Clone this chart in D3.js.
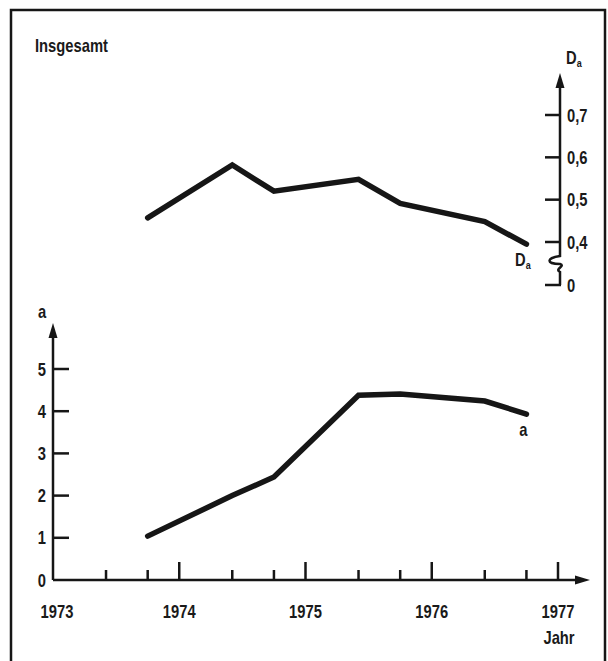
<!DOCTYPE html>
<html>
<head>
<meta charset="utf-8">
<script src="https://cdn.jsdelivr.net/npm/d3@7"></script>
<style>
  html, body { margin: 0; padding: 0; background: #fff; }
  svg text { font-family: "Liberation Sans", Arial, sans-serif; font-weight: bold; fill: #1a1a1a; }
</style>
</head>
<body>
<svg id="chart" width="608" height="661"></svg>
<script>
// --- data ---
const pointYears = [1973.75, 1974.42, 1974.75, 1975.42, 1975.75, 1976.42, 1976.75];
const daValues = [0.457, 0.582, 0.520, 0.548, 0.491, 0.448, 0.395];
const aValues = [1.04, 2.0, 2.44, 4.38, 4.41, 4.24, 3.93];
const yearTicks = [1973, 1974, 1975, 1976, 1977];
const minorTicks = [1973.42, 1973.75, 1974.42, 1974.75, 1975.42, 1975.75, 1976.42, 1976.75];
const aTicks = [1, 2, 3, 4, 5];
const daTicks = [0.4, 0.5, 0.6, 0.7];

const svg = d3.select('#chart');
const ink = '#161616';

// condensed look: squeeze the glyphs horizontally
const label = (g, lx, ly, txt, anchor, size) => g.append('text')
    .attr('transform', `translate(${lx},${ly}) scale(0.82,1)`)
    .attr('text-anchor', anchor || 'start')
    .attr('font-size', size || 18)
    .text(txt);

// frame
svg.append('rect')
    .attr('x', 11).attr('y', 10)
    .attr('width', 594).attr('height', 670)
    .attr('fill', 'none').attr('stroke', ink).attr('stroke-width', 2.5);

label(svg, 35, 52, 'Insgesamt');

// scales
const x = d3.scaleLinear().domain([1973, 1977]).range([53, 558]);
const yA = d3.scaleLinear().domain([0, 5]).range([580, 369]);
const yD = d3.scaleLinear().domain([0.4, 0.7]).range([242, 115]);
const daAxisX = 560;
const daZeroY = yD(0.4) + 43;

const arrow = (g, tipX, tipY, dir) => {
    const pts = dir === 'up'
        ? [[tipX, tipY], [tipX - 4.5, tipY + 15], [tipX + 4.5, tipY + 15]]
        : [[tipX, tipY], [tipX - 15, tipY - 4.5], [tipX - 15, tipY + 4.5]];
    g.append('path').attr('d', d3.line()(pts) + 'Z').attr('fill', ink);
};

// --- lower chart: a ---
const lower = svg.append('g');
lower.append('line')
    .attr('x1', x(1973)).attr('x2', x(1973)).attr('y1', yA(0)).attr('y2', 330)
    .attr('stroke', ink).attr('stroke-width', 2.5);
arrow(lower, x(1973), 323, 'up');
lower.append('line')
    .attr('x1', x(1973)).attr('x2', 582).attr('y1', yA(0)).attr('y2', yA(0))
    .attr('stroke', ink).attr('stroke-width', 2.5);
arrow(lower, 590, yA(0), 'right');

lower.selectAll('.aTick').data(aTicks).enter().append('line')
    .attr('x1', x(1973)).attr('x2', x(1973) + 16)
    .attr('y1', d => yA(d)).attr('y2', d => yA(d))
    .attr('stroke', ink).attr('stroke-width', 2.5);
[0].concat(aTicks).forEach(d => label(lower, 46, yA(d) + 6.5, d, 'end'));
label(lower, 42, 318, 'a', 'middle');

lower.selectAll('.yearTick').data(yearTicks.slice(1)).enter().append('line')
    .attr('x1', d => x(d)).attr('x2', d => x(d))
    .attr('y1', yA(0)).attr('y2', yA(0) - 18)
    .attr('stroke', ink).attr('stroke-width', 2.5);
lower.selectAll('.minorTick').data(minorTicks).enter().append('line')
    .attr('x1', d => x(d)).attr('x2', d => x(d))
    .attr('y1', yA(0)).attr('y2', yA(0) - 10)
    .attr('stroke', ink).attr('stroke-width', 2.5);
yearTicks.forEach(d => label(lower, x(d) + (d === 1973 ? 4 : 0), 618, d, 'middle'));
label(lower, 559, 644, 'Jahr', 'middle');

lower.append('path')
    .datum(pointYears.map((yr, i) => [yr, aValues[i]]))
    .attr('d', d3.line().x(d => x(d[0])).y(d => yA(d[1])))
    .attr('fill', 'none').attr('stroke', ink).attr('stroke-width', 5.5)
    .attr('stroke-linejoin', 'miter').attr('stroke-linecap', 'round');
label(lower, x(1976.75) - 3, 436, 'a', 'middle');

// --- upper chart: D_a ---
const upper = svg.append('g');
const yBreak = yD(0.4);
const axisPath = d3.path();
axisPath.moveTo(daAxisX, 80);
axisPath.lineTo(daAxisX, yBreak + 14);
axisPath.bezierCurveTo(daAxisX - 14, yBreak + 16, daAxisX - 14, yBreak + 22, daAxisX, yBreak + 22);
axisPath.bezierCurveTo(daAxisX + 6, yBreak + 24, daAxisX - 6, yBreak + 27, daAxisX, yBreak + 30);
axisPath.lineTo(daAxisX, daZeroY);
upper.append('path').attr('d', axisPath.toString())
    .attr('fill', 'none').attr('stroke', ink).attr('stroke-width', 2.5);
arrow(upper, daAxisX, 73, 'up');

upper.selectAll('.dTick').data(daTicks).enter().append('line')
    .attr('x1', daAxisX - 15).attr('x2', daAxisX)
    .attr('y1', d => yD(d)).attr('y2', d => yD(d))
    .attr('stroke', ink).attr('stroke-width', 2.5);
upper.append('line')
    .attr('x1', daAxisX - 15).attr('x2', daAxisX + 1)
    .attr('y1', daZeroY).attr('y2', daZeroY)
    .attr('stroke', ink).attr('stroke-width', 2.5);
daTicks.forEach(d => label(upper, 567, yD(d) + 6.5, d3.format('.1f')(d).replace('.', ',')));
label(upper, 567, daZeroY + 6.5, '0');

const daLabel = (g, lx, ly) => {
    const t = label(g, lx, ly, '');
    t.append('tspan').text('D');
    t.append('tspan').attr('font-size', 11).attr('dy', 3).text('a');
};
daLabel(upper, 566, 64);
daLabel(upper, 515, 266);

upper.append('path')
    .datum(pointYears.map((yr, i) => [yr, daValues[i]]))
    .attr('d', d3.line().x(d => x(d[0])).y(d => yD(d[1])))
    .attr('fill', 'none').attr('stroke', ink).attr('stroke-width', 5.5)
    .attr('stroke-linejoin', 'miter').attr('stroke-linecap', 'round');
</script>
</body>
</html>
